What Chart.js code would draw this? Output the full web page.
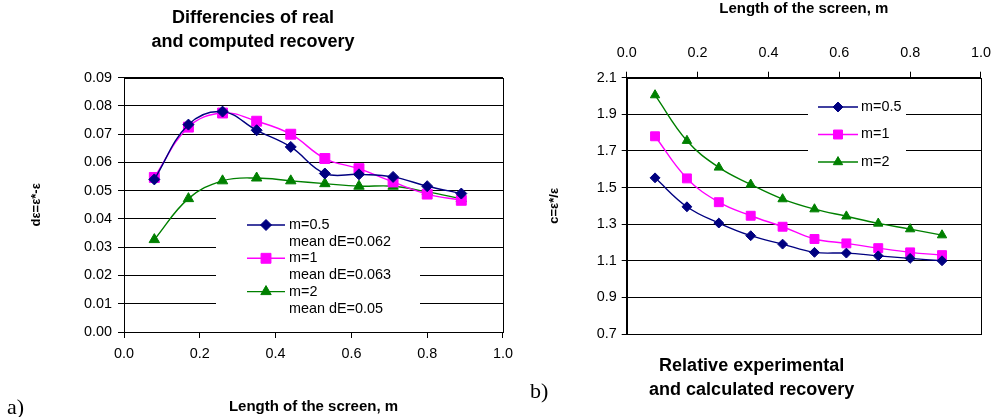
<!DOCTYPE html>
<html><head><meta charset="utf-8">
<script src="https://cdn.jsdelivr.net/npm/chart.js@4"></script>
<style>
html,body{margin:0;padding:0;background:#fff;overflow:hidden}
#wrap{position:relative;width:1001px;height:417px;background:#fff}
#c1{position:absolute;left:0;top:0}
#c2{position:absolute;left:520px;top:0}
.lab{position:absolute;font-family:'Liberation Serif','Times New Roman',serif;font-size:22px;color:#000;line-height:1}
</style></head><body>
<div id="wrap">
<canvas id="c1" width="520" height="417"></canvas>
<canvas id="c2" width="481" height="417"></canvas>
<div class="lab" style="left:7px;top:396px">a)</div>
<div class="lab" style="left:530px;top:380px">b)</div>
</div>
<script>
// ---- data ----
const screenLength = [0.08, 0.17, 0.26, 0.35, 0.44, 0.53, 0.62, 0.71, 0.80, 0.89];
const seriesNames = ['m=0.5', 'm=1', 'm=2'];
const meanLabels = ['mean dE=0.062', 'mean dE=0.063', 'mean dE=0.05'];
const dE_m05 = [0.0540, 0.0734, 0.0780, 0.0714, 0.0655, 0.0561, 0.0558, 0.0549, 0.0516, 0.0490];
const dE_m1  = [0.0547, 0.0725, 0.0775, 0.0746, 0.0700, 0.0614, 0.0578, 0.0531, 0.0488, 0.0466];
const dE_m2  = [0.0327, 0.0472, 0.0535, 0.0545, 0.0535, 0.0525, 0.0516, 0.0516, 0.0496, 0.0472];
const c_m05  = [1.553, 1.395, 1.306, 1.237, 1.191, 1.146, 1.142, 1.127, 1.113, 1.100];
const c_m1   = [1.780, 1.550, 1.420, 1.346, 1.286, 1.219, 1.195, 1.169, 1.146, 1.131];
const c_m2   = [2.005, 1.756, 1.610, 1.517, 1.437, 1.382, 1.343, 1.304, 1.273, 1.240];
const xTicks = [0.0, 0.2, 0.4, 0.6, 0.8, 1.0];
const yTicksLeft = [0.00, 0.01, 0.02, 0.03, 0.04, 0.05, 0.06, 0.07, 0.08, 0.09];
const yTicksRight = [0.7, 0.9, 1.1, 1.3, 1.5, 1.7, 1.9, 2.1];

// ---- styles ----
const FONT = "'Liberation Sans', Arial, Helvetica, sans-serif";
Chart.defaults.font.family = FONT;
Chart.defaults.color = '#000';
const styles = [
  {color: '#000080', pointStyle: 'rectRot', r: 5.5},
  {color: '#FF00FF', pointStyle: 'rect', r: 7},
  {color: '#008000', pointStyle: 'triangle', r: 6}
];

function makeDatasets(seriesArr, scale) {
  return seriesArr.map((vals, i) => ({
    label: seriesNames[i],
    data: screenLength.map((x, k) => ({x: x, y: vals[k]})),
    borderColor: styles[i].color,
    backgroundColor: styles[i].color,
    pointBackgroundColor: styles[i].color,
    pointBorderColor: styles[i].color,
    pointStyle: styles[i].pointStyle,
    pointRadius: styles[i].r * scale,
    pointBorderWidth: 1,
    borderWidth: 1.4,
    tension: 0.4,
    fill: false
  }));
}

function drawMarker(ctx, style, r, x, y) {
  if (Chart.helpers && Chart.helpers.drawPoint) {
    Chart.helpers.drawPoint(ctx, {pointStyle: style, radius: r, borderWidth: 1, rotation: 0}, x, y);
    return;
  }
  ctx.beginPath();
  if (style === 'rectRot') { ctx.moveTo(x, y - r); ctx.lineTo(x + r, y); ctx.lineTo(x, y + r); ctx.lineTo(x - r, y); }
  else if (style === 'rect') { const s = r * Math.SQRT1_2; ctx.rect(x - s, y - s, 2 * s, 2 * s); }
  else { ctx.moveTo(x, y - r); ctx.lineTo(x + r * 0.866, y + r / 2); ctx.lineTo(x - r * 0.866, y + r / 2); }
  ctx.closePath(); ctx.fill(); ctx.stroke();
}

const frame = {
  id: 'frame',
  beforeDatasetsDraw(chart) {
    const a = chart.chartArea, ctx = chart.ctx;
    ctx.save();
    ctx.strokeStyle = '#000'; ctx.lineWidth = 1;
    ctx.strokeRect(Math.round(a.left) + 0.5, Math.round(a.top) + 0.5, Math.round(a.right - a.left), Math.round(a.bottom - a.top));
    ctx.restore();
  }
};

const boxLegend = {
  id: 'boxLegend',
  afterDatasetsDraw(chart, args, o) {
    if (!o || !o.box) return;
    const ctx = chart.ctx;
    ctx.save();
    ctx.fillStyle = '#fff';
    ctx.fillRect(o.box[0], o.box[1], o.box[2], o.box[3]);
    chart.data.datasets.forEach((ds, i) => {
      const y = o.y0 + i * o.rowH;
      ctx.strokeStyle = ds.borderColor; ctx.lineWidth = 1.4;
      ctx.beginPath(); ctx.moveTo(o.lx0, y); ctx.lineTo(o.lx1, y); ctx.stroke();
      ctx.fillStyle = ds.borderColor; ctx.strokeStyle = ds.borderColor; ctx.lineWidth = 1;
      drawMarker(ctx, ds.pointStyle, ds.pointRadius, (o.lx0 + o.lx1) / 2, y);
      ctx.fillStyle = '#000';
      ctx.font = o.font; ctx.textBaseline = 'middle'; ctx.textAlign = 'left';
      ctx.fillText(ds.label, o.tx, y);
      if (o.sub) ctx.fillText(o.sub[i], o.tx, y + o.subDy);
    });
    ctx.restore();
  }
};

const tickFont = {size: 14.4};
const setTicks = arr => s => { s.ticks = arr.map(v => ({value: v})); };

// ---- chart a ----
new Chart(document.getElementById('c1'), {
  type: 'line',
  data: {datasets: makeDatasets([dE_m05, dE_m1, dE_m2], 1)},
  plugins: [frame, boxLegend],
  options: {
    responsive: false, animation: false, events: [],
    layout: {padding: {left: 0, right: 14, top: 0, bottom: 0}},
    plugins: {
      legend: {display: false}, tooltip: {enabled: false},
      title: {display: true, text: ['Differencies of real', 'and computed recovery'], color: '#000',
        font: {size: 18, weight: 'bold', lineHeight: 1.3333}, padding: {top: 6, bottom: 23.7}},
      boxLegend: {box: [216, 205, 204, 117], y0: 225, rowH: 33.3, lx0: 247, lx1: 285, tx: 289,
        font: '14.4px ' + FONT, sub: meanLabels, subDy: 17}
    },
    scales: {
      x: {type: 'linear', position: 'bottom', min: 0, max: 1,
        afterBuildTicks: setTicks(xTicks),
        afterFit: s => { s.height = 85; },
        ticks: {font: tickFont, color: '#000', padding: 7, maxRotation: 0, autoSkip: false, callback: v => Number(v).toFixed(1)},
        grid: {drawOnChartArea: false, drawTicks: true, tickLength: 6, color: '#000'},
        border: {color: '#000'},
        title: {display: true, text: 'Length of the screen, m', color: '#000', font: {size: 15, weight: 'bold'}, padding: {top: 0, bottom: 1}}
      },
      y: {type: 'linear', min: 0, max: 0.09,
        afterBuildTicks: setTicks(yTicksLeft),
        afterFit: s => { s.width = 124; },
        ticks: {font: tickFont, color: '#000', padding: 6, autoSkip: false, callback: v => Number(v).toFixed(2)},
        grid: {color: '#000', tickLength: 6},
        border: {color: '#000'},
        title: {display: true, text: 'dε=ε*-ε', color: '#000', font: {size: 13, weight: 'bold'}, padding: {top: 29, bottom: 0}}
      }
    }
  }
});

// ---- chart b ----
new Chart(document.getElementById('c2'), {
  type: 'line',
  data: {datasets: makeDatasets([c_m05, c_m1, c_m2], 0.9)},
  plugins: [frame, boxLegend],
  options: {
    responsive: false, animation: false, events: [],
    layout: {padding: {left: 0, right: 17.7, top: 0, bottom: 0}},
    plugins: {
      legend: {display: false}, tooltip: {enabled: false},
      title: {display: true, position: 'bottom', text: ['Relative experimental', 'and calculated recovery'], color: '#000',
        font: {size: 18, weight: 'bold', lineHeight: 1.3333}, padding: {top: 20, bottom: 15}},
      boxLegend: {box: [288, 92, 98, 83], y0: 107, rowH: 27.5, lx0: 298, lx1: 338, tx: 341,
        font: '14.4px ' + FONT}
    },
    scales: {
      x: {type: 'linear', position: 'top', min: 0, max: 1,
        afterBuildTicks: setTicks(xTicks),
        afterFit: s => { s.height = 77.7; },
        ticks: {font: tickFont, color: '#000', padding: 10, maxRotation: 0, autoSkip: false, callback: v => Number(v).toFixed(1)},
        grid: {drawOnChartArea: false, drawTicks: true, tickLength: 6, color: '#000'},
        border: {color: '#000'},
        title: {display: true, text: 'Length of the screen, m', color: '#000', font: {size: 15, weight: 'bold'}, padding: {top: 0, bottom: 0}}
      },
      y: {type: 'linear', min: 0.7, max: 2.1,
        afterBuildTicks: setTicks(yTicksRight),
        afterFit: s => { s.width = 106.7; },
        ticks: {font: tickFont, color: '#000', padding: 5, autoSkip: false, callback: v => Number(v).toFixed(1)},
        grid: {color: '#000', tickLength: 5},
        border: {color: '#000'},
        title: {display: true, text: 'c=ε*/ε', color: '#000', font: {size: 13, weight: 'bold'}, padding: {top: 27, bottom: 0}}
      }
    }
  }
});
</script>
</body></html>
